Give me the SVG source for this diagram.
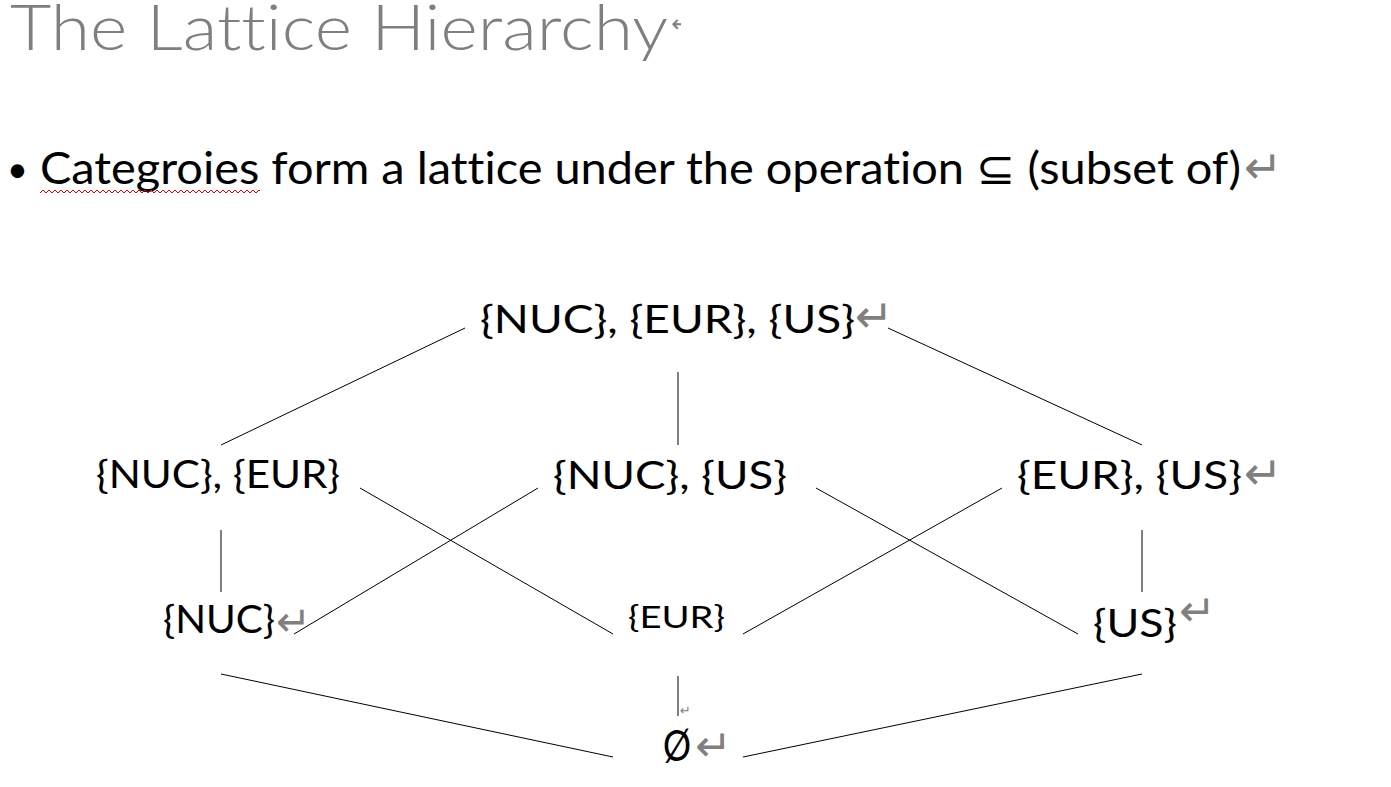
<svg xmlns="http://www.w3.org/2000/svg" width="1391" height="787" viewBox="0 0 1391 787">
<style>
.t{font-family:Lato,"Open Sans","Liberation Sans",sans-serif;fill:#000;font-variant-ligatures:none;font-feature-settings:"liga" 0,"clig" 0}
.n{font-size:39px}
.rm{font-family:"DejaVu Sans",sans-serif;fill:#808080}
.e{stroke:#000;stroke-width:1;fill:none}
</style>
<defs>
<clipPath id="tc"><rect x="0" y="0" width="681" height="787"/></clipPath>
<pattern id="wave" x="40" y="189" width="6" height="5" patternUnits="userSpaceOnUse">
<path d="M0,4 L3,1 L6,4" stroke="#e00000" stroke-width="1" fill="none"/>
</pattern>
</defs>
<rect width="1391" height="787" fill="#fff"/>
<g id="title" clip-path="url(#tc)">
<text class="t" x="10" y="50" font-size="64" font-weight="300" style="fill:#7f7f7f" textLength="658" lengthAdjust="spacingAndGlyphs">The Lattice Hierarchy</text>
<text class="rm" x="671" y="32" font-size="24">↵</text>
</g>
<g id="bullet">
<text class="t" x="7" y="182" font-size="36">•</text>
<text class="t" x="40" y="184" font-size="44" textLength="1201" lengthAdjust="spacingAndGlyphs">Categroies form a lattice under the operation ⊆ (subset of)</text>
<text class="rm" x="1244" y="183" font-size="46">↵</text>
<rect x="40" y="189" width="220" height="5" fill="url(#wave)"/>
</g>
<g id="connectors">
<line class="e" x1="465" y1="328" x2="221" y2="445"/>
<line class="e" x1="678" y1="372" x2="678" y2="445"/>
<line class="e" x1="888" y1="328" x2="1142" y2="445"/>
<line class="e" x1="360" y1="488" x2="613" y2="634"/>
<line class="e" x1="538" y1="488" x2="294" y2="634"/>
<line class="e" x1="816" y1="488" x2="1078" y2="634"/>
<line class="e" x1="1002" y1="488" x2="743" y2="634"/>
<line class="e" x1="221" y1="530" x2="221" y2="592"/>
<line class="e" x1="1142" y1="530" x2="1142" y2="592"/>
<line class="e" x1="221" y1="674" x2="613" y2="757"/>
<line class="e" x1="678" y1="676" x2="678" y2="716"/>
<line class="e" x1="1142" y1="674" x2="743" y2="757"/>
</g>
<g id="n-top">
<text class="t n" x="480" y="333" textLength="375" lengthAdjust="spacingAndGlyphs">{NUC}, {EUR}, {US}</text>
<text class="rm" x="855" y="332" font-size="46">↵</text>
</g>
<g id="n-nuc-eur">
<text class="t n" x="96" y="488" textLength="244" lengthAdjust="spacingAndGlyphs">{NUC}, {EUR}</text>
</g>
<g id="n-nuc-us">
<text class="t n" x="553" y="489" textLength="234" lengthAdjust="spacingAndGlyphs">{NUC}, {US}</text>
</g>
<g id="n-eur-us">
<text class="t n" x="1017" y="489" textLength="225" lengthAdjust="spacingAndGlyphs">{EUR}, {US}</text>
<text class="rm" x="1244" y="489" font-size="46">↵</text>
</g>
<g id="n-nuc">
<text class="t n" x="163" y="633" textLength="112" lengthAdjust="spacingAndGlyphs">{NUC}</text>
<text class="rm" x="276" y="636" font-size="42">↵</text>
</g>
<g id="n-eur">
<text class="t" x="628" y="628" font-size="31" textLength="97" lengthAdjust="spacingAndGlyphs">{EUR}</text>
</g>
<g id="n-us">
<text class="t n" x="1093" y="637" textLength="84" lengthAdjust="spacingAndGlyphs">{US}</text>
<text class="rm" x="1179" y="626" font-size="44">↵</text>
</g>
<g id="n-empty">
<text class="rm" x="680" y="715" font-size="13">↵</text>
<text class="t" x="663" y="761" font-size="43" textLength="28" lengthAdjust="spacingAndGlyphs">Ø</text>
<text class="rm" x="695" y="761" font-size="44">↵</text>
</g>
</svg>
